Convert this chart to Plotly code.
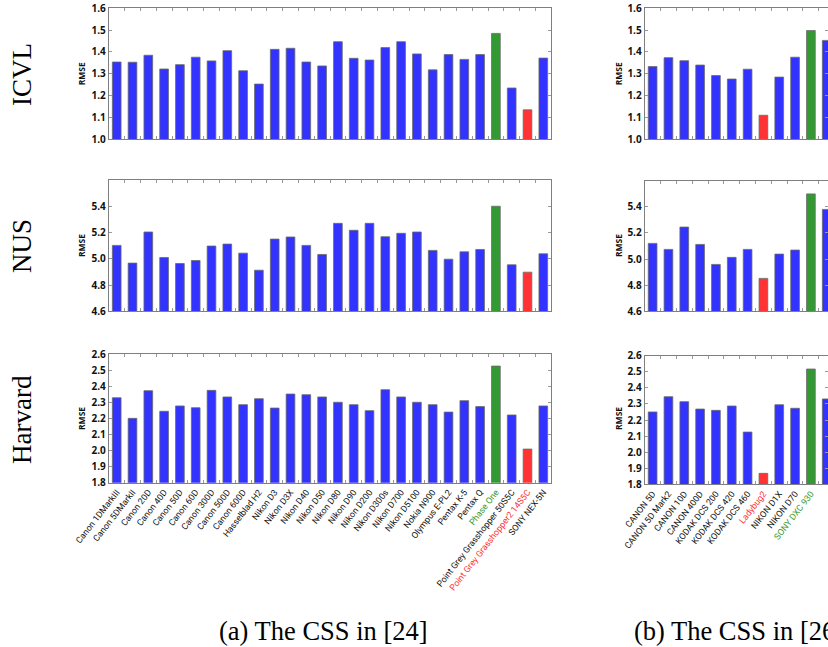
import plotly.graph_objects as go
from plotly.subplots import make_subplots

# ---------------- data ----------------
cams_a = ["Canon 1DMarkIII", "Canon 5DMarkII", "Canon 20D", "Canon 40D", "Canon 50D",
          "Canon 60D", "Canon 300D", "Canon 500D", "Canon 600D", "Hasselblad H2",
          "Nikon D3", "Nikon D3X", "Nikon D40", "Nikon D50", "Nikon D80", "Nikon D90",
          "Nikon D200", "Nikon D300s", "Nikon D700", "Nikon D5100", "Nokia N900",
          "Olympus E-PL2", "Pentax K-5", "Pentax Q", "Phase One",
          "Point Grey Grasshopper 50S5C", "Point Grey Grasshopper2 14S5C", "SONY NEX-5N"]
icvl_a = [1.354, 1.353, 1.385, 1.322, 1.342, 1.376, 1.359, 1.406, 1.314, 1.253,
          1.412, 1.417, 1.354, 1.336, 1.447, 1.371, 1.363, 1.420, 1.447, 1.391,
          1.318, 1.388, 1.366, 1.388, 1.485, 1.235, 1.135, 1.372]
nus_a = [5.102, 4.967, 5.204, 5.010, 4.964, 4.987, 5.097, 5.112, 5.043, 4.913,
         5.150, 5.166, 5.102, 5.033, 5.270, 5.217, 5.270, 5.168, 5.194, 5.204,
         5.064, 4.997, 5.053, 5.071, 5.400, 4.954, 4.898, 5.038]
harv_a = [2.328, 2.200, 2.372, 2.244, 2.277, 2.266, 2.374, 2.333, 2.285, 2.322,
          2.264, 2.351, 2.347, 2.333, 2.300, 2.285, 2.248, 2.378, 2.333, 2.300,
          2.285, 2.239, 2.310, 2.273, 2.525, 2.221, 2.009, 2.277]
best_a, worst_a = "Phase One", "Point Grey Grasshopper2 14S5C"

cams_b = ["CANON 5D", "CANON 5D Mark2", "CANON 10D", "CANON 400D", "KODAK DCS 200",
          "KODAK DCS 420", "KODAK DCS 460", "Ladybug2", "NIKON D1X", "NIKON D70",
          "SONY DXC 930", "SONY DXC 9000"]
icvl_b = [1.333, 1.374, 1.360, 1.340, 1.292, 1.276, 1.321, 1.110, 1.285, 1.376, 1.498, 1.453]
nus_b = [5.120, 5.074, 5.245, 5.112, 4.959, 5.013, 5.074, 4.852, 5.038, 5.069, 5.499, 5.380]
harv_b = [2.250, 2.345, 2.314, 2.268, 2.260, 2.287, 2.125, 1.868, 2.295, 2.273, 2.517, 2.331]
best_b, worst_b = "SONY DXC 930", "Ladybug2"

row_names = ["ICVL", "NUS", "Harvard"]
y_ranges = [[1.0, 1.6], [4.6, 5.6], [1.8, 2.6]]
y_ticks = [[1.0, 1.1, 1.2, 1.3, 1.4, 1.5, 1.6],
           [4.6, 4.8, 5.0, 5.2, 5.4],
           [1.8, 1.9, 2.0, 2.1, 2.2, 2.3, 2.4, 2.5, 2.6]]
captions = ["(a) The CSS in [24]", "(b) The CSS in [26]"]

# ---------------- style ----------------
W, H = 828, 647
BLUE, GREEN, RED = "#3333ff", "#339933", "#ff3333"
FRAME = "#7f7f7f"
SERIF = "Liberation Serif"
SANS = "Open Sans"
LABEL_FONT = "Roboto"


def px(x):
    return x / W


def py(y):
    return 1 - y / H


def colors_for(names, best, worst):
    return [GREEN if n == best else RED if n == worst else BLUE for n in names]


def tick_text(names, best, worst):
    out = []
    for n in names:
        if n == best:
            out.append(f"<span style='color:{GREEN}'>{n}</span>")
        elif n == worst:
            out.append(f"<span style='color:{RED}'>{n}</span>")
        else:
            out.append(n)
    return out


fig = make_subplots(rows=3, cols=2, horizontal_spacing=0.05, vertical_spacing=0.05)

cols = [
    dict(names=cams_a, data=[icvl_a, nus_a, harv_a], best=best_a, worst=worst_a,
         xdom=[px(108.8), px(551.2)], xr=[-0.5, len(cams_a) - 0.5]),
    dict(names=cams_b, data=[icvl_b, nus_b, harv_b], best=best_b, worst=worst_b,
         xdom=[px(644.7), 1.0], xr=[-0.5, 11.08]),
]
ydoms = [
    [[py(139.3), py(8.3)], [py(311.3), py(180.0)], [py(482.7), py(354.0)]],
    [[py(139.3), py(8.3)], [py(311.3), py(180.7)], [py(484.3), py(355.7)]],
]

for c, col in enumerate(cols):
    n = len(col["names"])
    xs = list(range(n))
    colr = colors_for(col["names"], col["best"], col["worst"])
    for r in range(3):
        fig.add_trace(go.Bar(x=xs, y=col["data"][r], width=0.55,
                             marker=dict(color=colr, line=dict(color="#6a6a6a", width=0.8)),
                             showlegend=False),
                      row=r + 1, col=c + 1)
        fig.update_xaxes(row=r + 1, col=c + 1, domain=col["xdom"], range=col["xr"],
                         automargin=False,
                         showline=True, linecolor=FRAME, linewidth=1, mirror="allticks",
                         showgrid=False, zeroline=False,
                         tickmode="array", tickvals=xs,
                         ticktext=tick_text(col["names"], col["best"], col["worst"]) if r == 2 else [""] * n,
                         showticklabels=(r == 2), ticks="", tickangle=-52,
                         tickfont=dict(family=LABEL_FONT, size=8.8, color="#111111"),
                         minor=dict(tickmode="array", tickvals=[i + 0.5 for i in range(n - 1)],
                                    ticks="inside", ticklen=3, tickcolor="#999999", showgrid=False))
        fig.update_yaxes(row=r + 1, col=c + 1, domain=ydoms[c][r], range=y_ranges[r],
                         automargin=False,
                         showline=True, linecolor=FRAME, linewidth=1, mirror="allticks",
                         showgrid=False, zeroline=False,
                         tickmode="array", tickvals=y_ticks[r],
                         ticktext=[f"{v:.1f}" for v in y_ticks[r]],
                         ticks="inside", ticklen=3, tickcolor="#999999",
                         tickfont=dict(family=SANS, size=10, color="#111111", weight="bold"))

annotations = []
row_centers = [75, 246, 420]
rmse_centers = [73.8, 245.6, 418.5]
for r in range(3):
    annotations.append(dict(text=row_names[r], x=px(22), y=py(row_centers[r]),
                            xref="paper", yref="paper", textangle=-90, showarrow=False,
                            xanchor="center", yanchor="middle",
                            font=dict(family=SERIF, size=27, color="#000000")))
    for xr in (81.5, 618.5):
        annotations.append(dict(text="RMSE", x=px(xr), y=py(rmse_centers[r]),
                                xref="paper", yref="paper", textangle=-90, showarrow=False,
                                xanchor="center", yanchor="middle",
                                font=dict(family=SANS, size=8.5, color="#111111", weight="bold")))
annotations.append(dict(text=captions[0], x=px(323), y=py(631), xref="paper", yref="paper",
                        showarrow=False, xanchor="center", yanchor="middle",
                        font=dict(family=SERIF, size=26.5, color="#000000")))
annotations.append(dict(text=captions[1], x=px(632), y=py(631), xref="paper", yref="paper",
                        showarrow=False, xanchor="left", yanchor="middle",
                        font=dict(family=SERIF, size=26.5, color="#000000")))

fig.update_layout(width=W, height=H, margin=dict(l=0, r=0, t=0, b=0),
                  paper_bgcolor="white", plot_bgcolor="white", bargap=0.45,
                  annotations=annotations)

fig.write_html("out.html", config={"displayModeBar": False},
               post_script="document.body.style.margin='0';")
